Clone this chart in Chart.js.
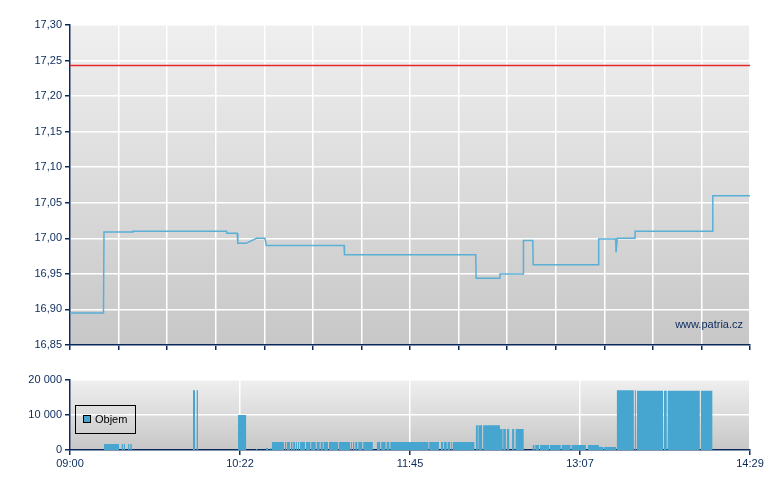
<!DOCTYPE html>
<html><head><meta charset="utf-8">
<script src="https://cdn.jsdelivr.net/npm/chart.js@4"></script>
<style>
html,body{margin:0;padding:0;background:#fff;}
body{width:780px;height:490px;overflow:hidden;position:relative;font-family:"Liberation Sans",Arial,sans-serif;}
#c1{position:absolute;left:0;top:0;}
#c2{position:absolute;left:0;top:355px;}
#legend{position:absolute;left:75px;top:405px;width:59px;height:27px;border:1px solid #000;}
#legend .sw{position:absolute;left:7px;top:9px;width:6px;height:6px;border:1px solid #000;background:#46a6cf;}
#legend .tx{position:absolute;left:19px;top:6px;font-size:11px;line-height:14px;color:#000;}
#wm{position:absolute;right:37px;top:317px;font-size:11px;line-height:14px;color:#0b2a5c;}
</style></head>
<body>
<canvas id="c1" width="780" height="355"></canvas>
<canvas id="c2" width="780" height="135"></canvas>
<div id="legend"><div class="sw"></div><div class="tx">Objem</div></div>
<div id="wm">www.patria.cz</div>
<script>
// ---- data (minutes since 09:00) ----
const sessionStart = 0, sessionEnd = 329;
const timeLabels = ['09:00','10:22','11:45','13:07','14:29'];
const priceTicks = [16.85,16.90,16.95,17.00,17.05,17.10,17.15,17.20,17.25,17.30];
const volumeTicks = [0,10000,20000];
const prevClose = 17.243;
const priceTimes = [0,16.2,16.45,30.5,30.5,75.8,75.8,80.9,81.2,85.2,90.3,94.3,95.0,132.6,132.8,196.3,196.5,208.0,208.0,219.3,219.4,223.9,224.1,255.6,255.8,264.0,264.2,264.8,273.4,273.4,310.9,311.0,329];
const priceValues = [16.895,16.895,17.009,17.009,17.010,17.010,17.007,17.007,16.993,16.993,17.000,17.000,16.990,16.990,16.977,16.977,16.944,16.944,16.950,16.950,16.997,16.997,16.963,16.963,16.999,16.999,16.980,17.000,17.000,17.010,17.010,17.060,17.060];
const volStart = [16.45,25.0,26.0,28.1,29.2,59.5,61.3,81.3,90.0,94.8,96.8,
  97.7,104.0,104.9,106.9,108.0,109.3,110.3,111.3,114.2,116.7,119.4,121.3,122.7,125.3,130.1,135.9,136.9,138.0,139.5,141.9,148.5,150.6,153.2,155.0,173.8,179.5,180.9,182.7,184.3,185.2,
  196.4,197.6,199.9,
  208.0,209.6,211.4,213.9,215.6,
  223.9,225.1,227.4,232.2,237.9,242.7,250.6,
  255.9,258.4,
  264.6,273.3,
  274.3,287.4,289.2,305.3];
const volEnd = [23.7,25.6,26.6,28.7,29.9,60.5,61.9,85.2,90.5,95.8,97.2,
  103.5,104.5,106.4,107.6,108.9,109.8,110.8,113.7,116.3,118.9,120.8,122.3,124.8,129.7,135.5,136.4,137.5,139.0,141.4,146.5,150.1,152.7,154.5,173.4,178.5,180.5,182.3,183.9,184.7,195.6,
  197.3,199.4,208.0,
  209.3,210.9,212.5,214.9,219.5,
  224.7,226.9,231.8,237.4,242.2,249.6,255.9,
  258.0,264.2,
  272.8,273.8,
  286.9,288.7,304.7,310.9];
const volValue = [1700,1700,1700,1700,1700,17100,17100,10000,300,600,600,
  2300,2300,2300,2300,2300,2300,2300,2300,2300,2300,2300,2300,2300,2300,2300,2300,2300,2300,2300,2300,2300,2300,2300,2300,2300,2300,2300,2300,2300,2300,
  7100,7100,7100,
  6000,6000,6000,6000,6000,
  1400,1400,1400,1400,1400,1400,1400,
  860,860,
  17100,17100,
  16900,16900,16900,16900];

// ---- styles ----
const NAVY = '#0b2a5c';
Chart.defaults.font.family = '"Liberation Sans", Arial, sans-serif';
Chart.defaults.font.size = 11;
Chart.defaults.color = NAVY;

const bgPlugin = {
  id: 'bg',
  beforeDraw(chart) {
    const {ctx, chartArea: a} = chart;
    const g = ctx.createLinearGradient(0, a.top, 0, a.bottom);
    g.addColorStop(0, '#efefef');
    g.addColorStop(1, '#c7c7c7');
    ctx.save();
    ctx.fillStyle = g;
    ctx.fillRect(a.left, a.top, a.right - a.left, a.bottom - a.top);
    ctx.restore();
  }
};

const baseOpts = {
  animation: false, responsive: false, events: [],
  plugins: {legend: {display: false}, tooltip: {enabled: false}}
};

// ---- price chart ----
new Chart(document.getElementById('c1'), {
  type: 'line',
  data: {datasets: [
    {data: priceTimes.map((t, i) => ({x: t, y: priceValues[i]})), borderColor: '#5aafd7', borderWidth: 1.5, pointRadius: 0, tension: 0},
    {data: [{x: sessionStart, y: prevClose}, {x: sessionEnd, y: prevClose}], borderColor: '#e8282a', borderWidth: 1.5, pointRadius: 0}
  ]},
  options: Object.assign({}, baseOpts, {
    layout: {padding: {top: 25, right: 30, left: 0, bottom: 0}},
    scales: {
      x: {
        type: 'linear', min: sessionStart, max: sessionEnd,
        afterBuildTicks(s) { const n = 14, arr = []; for (let k = 0; k <= n; k++) arr.push({value: sessionStart + (sessionEnd - sessionStart) * k / n}); s.ticks = arr; },
        ticks: {display: false},
        grid: {color: '#ffffff', lineWidth: 1.5, tickColor: NAVY, tickLength: 5},
        border: {color: NAVY, width: 1.5},
        afterFit(s) { s.height = 10; }
      },
      y: {
        min: priceTicks[0], max: priceTicks[priceTicks.length - 1],
        afterBuildTicks(s) { s.ticks = priceTicks.map(v => ({value: v})); },
        ticks: {callback: v => v.toFixed(2).replace('.', ','), color: NAVY, padding: 3},
        grid: {color: '#ffffff', lineWidth: 1.5, tickColor: NAVY, tickLength: 5},
        border: {color: NAVY, width: 1.5},
        afterFit(s) { s.width = 70; }
      }
    }
  }),
  plugins: [bgPlugin]
});

// ---- volume chart ----
const volPoints = [];
volStart.forEach((s, i) => { volPoints.push({x: s, y: volValue[i]}); volPoints.push({x: volEnd[i], y: 0}); });
const fmtThousands = v => String(v).replace(/\B(?=(\d{3})+(?!\d))/g, ' ');

new Chart(document.getElementById('c2'), {
  type: 'line',
  data: {datasets: [
    {label: 'Objem', data: volPoints, stepped: 'before', fill: 'origin', backgroundColor: '#46a6cf', borderWidth: 0, borderColor: 'rgba(0,0,0,0)', pointRadius: 0}
  ]},
  options: Object.assign({}, baseOpts, {
    layout: {padding: {top: 25, right: 30, left: 0, bottom: 0}},
    scales: {
      x: {
        type: 'linear', min: sessionStart, max: sessionEnd,
        afterBuildTicks(s) { s.ticks = timeLabels.map((l, i) => ({value: sessionStart + (sessionEnd - sessionStart) * i / (timeLabels.length - 1)})); },
        ticks: {callback: (v, i) => timeLabels[i], color: NAVY, padding: 2, maxRotation: 0, autoSkip: false},
        grid: {color: '#ffffff', lineWidth: 1.5, tickColor: NAVY, tickLength: 5},
        border: {color: NAVY, width: 1.5},
        afterFit(s) { s.height = 40; }
      },
      y: {
        min: volumeTicks[0], max: volumeTicks[volumeTicks.length - 1],
        afterBuildTicks(s) { s.ticks = volumeTicks.map(v => ({value: v})); },
        ticks: {callback: v => fmtThousands(v), color: NAVY, padding: 3},
        grid: {color: '#ffffff', lineWidth: 1.5, tickColor: NAVY, tickLength: 5},
        border: {color: NAVY, width: 1.5},
        afterFit(s) { s.width = 70; }
      }
    }
  }),
  plugins: [bgPlugin]
});
</script>
</body></html>
